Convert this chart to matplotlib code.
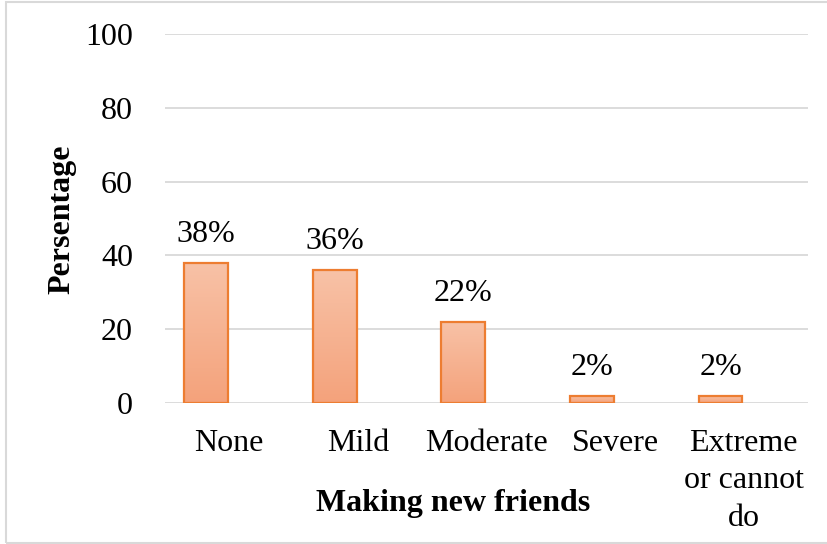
import matplotlib
matplotlib.use("Agg")
import matplotlib.pyplot as plt
import numpy as np
from matplotlib.patches import Rectangle
from matplotlib.colors import LinearSegmentedColormap

categories = ["None", "Mild", "Moderate", "Severe", "Extreme\nor cannot\ndo"]
values = [38, 36, 22, 2, 2]
labels = ["38%", "36%", "22%", "2%", "2%"]
yticks = [0, 20, 40, 60, 80, 100]

plt.rcParams['font.family'] = ['Liberation Serif', 'DejaVu Serif']
FS = 23

W, H = 827, 544
fig = plt.figure(figsize=(W/100, H/100), dpi=100)
ax = fig.add_axes([165/W, 1 - 403/H, (808-165)/W, (403-34)/H])

x = np.arange(len(categories))
offset = -0.18
width = 0.34
bars = ax.bar(x + offset, values, width=width, color='none', edgecolor='#ED7D31',
              linewidth=1.6, zorder=3)

cmap = LinearSegmentedColormap.from_list('g', ['#F4A27B', '#F8C2A7'])
grad = np.linspace(0, 1, 256).reshape(-1, 1)
for b in bars:
    bx, by = b.get_x(), b.get_y()
    bw, bh = b.get_width(), b.get_height()
    im = ax.imshow(grad, cmap=cmap, origin='lower', aspect='auto',
                   extent=[bx, bx + bw, by, by + bh], zorder=2)
    im.set_clip_path(b)

for xi, v, lab in zip(x, values, labels):
    ax.annotate(lab, (xi + offset, v), xytext=(0, 10), textcoords='offset points',
                ha='center', va='bottom', fontsize=FS)

ax.set_xlim(-0.5, len(categories) - 0.5)
ax.set_ylim(0, 100)
ax.set_yticks(yticks)
ax.set_yticklabels([str(t) for t in yticks], fontsize=FS)
ax.set_xticks(x)
ax.set_xticklabels(categories, fontsize=FS, linespacing=1.4, va='top')
ax.tick_params(axis='both', length=0)
ax.tick_params(axis='y', pad=23)
ax.tick_params(axis='x', pad=18.5)
ax.yaxis.grid(True, color='#D9D9D9', linewidth=1.3, zorder=0)
ax.set_axisbelow(True)
for s in ax.spines.values():
    s.set_visible(False)

fig.text(62/W, 1 - 219/H, "Persentage", rotation=90, ha='center', va='center',
         fontsize=FS, fontweight='bold')
fig.text(453/W, 1 - 503/H, "Making new friends", ha='center', va='center',
         fontsize=FS, fontweight='bold')

fig.patches.append(Rectangle((6/W, 1/H), 1.2, 1 - 2.5/H, transform=fig.transFigure,
                             fill=False, edgecolor='#D9D9D9', linewidth=1.5))

fig.savefig("out.png", dpi=100)
